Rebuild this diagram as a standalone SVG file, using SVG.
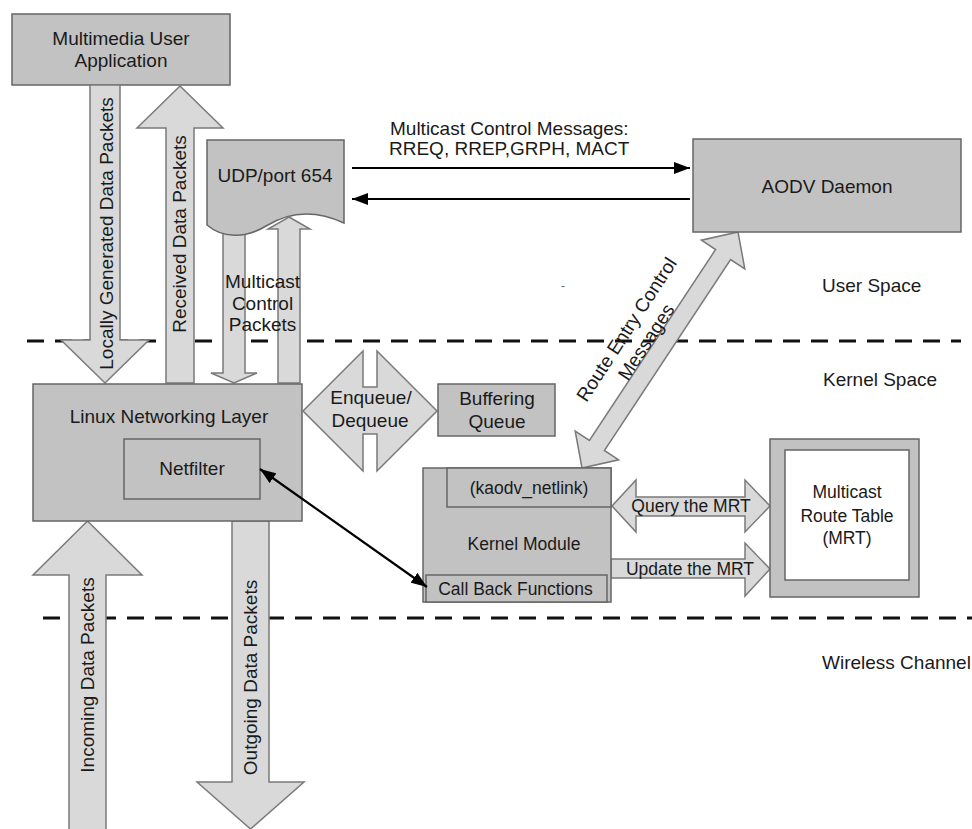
<svg xmlns="http://www.w3.org/2000/svg" width="972" height="829" viewBox="0 0 972 829">
<style>
text{font-family:"Liberation Sans",Arial,sans-serif;font-size:19px;fill:#1a1a1a;text-anchor:middle}
.sm{font-size:17.5px}
.lt{text-anchor:start}
.box{fill:#c2c2c2;stroke:#666;stroke-width:1.5}
.arr{fill:#d9d9d9;stroke:#7a7a7a;stroke-width:1.5;stroke-linejoin:miter}
.dash{stroke:#111;stroke-width:3;stroke-dasharray:17 11;fill:none}
.conn{stroke:#000;stroke-width:2.2;fill:none}
</style>
<defs>
<marker id="ah" markerUnits="userSpaceOnUse" markerWidth="16" markerHeight="12" refX="16" refY="6" orient="auto-start-reverse">
<path d="M0,0 L16,6 L0,12 z" fill="#000"/>
</marker>
</defs>
<rect width="972" height="829" fill="#fff"/>

<g id="separators">
<line class="dash" x1="27" y1="341" x2="961" y2="341"/>
<line class="dash" x1="43" y1="618" x2="972" y2="618"/>
</g>

<g id="region-labels">
<text class="lt" x="822" y="292">User Space</text>
<text class="lt" x="823" y="386">Kernel Space</text>
<text class="lt" x="822" y="669">Wireless Channel</text>
<text x="563" y="290" style="font-size:12px;fill:#666">-</text>
</g>

<g id="app">
<rect class="box" x="12" y="14" width="218" height="71"/>
<text x="121" y="45">Multimedia User</text>
<text x="121" y="67">Application</text>
</g>

<g id="connectors">
<g id="locally-generated">
<polygon class="arr" points="90,85 120,85 120,340 149,340 105,383 61,340 90,340"/>
<text transform="translate(113,233.5) rotate(-90)">Locally Generated Data Packets</text>
</g>
<g id="received">
<polygon class="arr" points="180,86 223,128 194,128 194,383 166,383 166,128 137,128"/>
<text transform="translate(186,234) rotate(-90)">Received Data Packets</text>
</g>
<g id="mc-down">
<polygon class="arr" points="223,225 245,225 245,373 257,373 234,383 211,373 223,373"/>
</g>
<g id="incoming">
<polygon class="arr" points="87.5,521 142,575 106,575 106,832 69,832 69,575 33,575"/>
<text transform="translate(94,675) rotate(-90)">Incoming Data Packets</text>
</g>
<g id="outgoing">
<polygon class="arr" points="232,521 269,521 269,782 304,782 250.5,829 197,782 232,782"/>
<text transform="translate(257,677.5) rotate(-90)">Outgoing Data Packets</text>
</g>
<g id="route-entry">
<polygon class="arr" points="738,232 744.8,268.8 730.6,259.5 604.4,450.5 618.6,459.8 582,468 575.2,431.2 589.4,440.5 715.6,249.5 701.4,240.2"/>
<text transform="translate(632,333) rotate(-57)">Route Entry Control</text>
<text transform="translate(651.5,345.5) rotate(-57)">Messages</text>
</g>
<g id="query">
<polygon class="arr" points="612,506 636,480 636,497 745,497 745,480 770,506 745,532 745,516 636,516 636,532"/>
<text class="sm" x="691" y="512">Query the MRT</text>
</g>
<g id="update">
<polygon class="arr" points="611,559 745,559 745,543 770,569 745,596 745,578 611,578"/>
<text class="sm" x="690" y="575">Update the MRT</text>
</g>
<line class="conn" x1="352" y1="168" x2="690" y2="168" marker-end="url(#ah)"/>
<line class="conn" x1="690" y1="199" x2="352" y2="199" marker-end="url(#ah)"/>
<text class="lt" x="390" y="135">Multicast Control Messages:</text>
<text class="lt" x="389" y="155">RREQ, RREP,GRPH, MACT</text>
</g>

<g id="udp">
<path class="box" d="M207,140 H344 V223 C312,208 287,213 266,226 S222,238 207,225 Z"/>
<text x="275" y="182">UDP/port 654</text>
</g>

<g id="mc-up">
<polygon class="arr" points="289,217 310,229 300,229 300,383 278,383 278,229 268,229"/>
<text x="262.5" y="288">Multicast</text>
<text x="262.5" y="310">Control</text>
<text x="262.5" y="331">Packets</text>
</g>

<g id="aodv">
<rect class="box" x="693" y="139" width="268" height="93"/>
<text x="827" y="193">AODV Daemon</text>
</g>

<g id="linux">
<rect class="box" x="33" y="384" width="269" height="137"/>
<text x="169" y="423">Linux Networking Layer</text>
<g id="netfilter">
<rect class="box" x="124" y="439" width="136" height="60"/>
<text x="192" y="475">Netfilter</text>
</g>
</g>

<g id="enqueue">
<polygon class="arr" points="303,411 363,351 363,387 377,387 377,351 437,411 377,471 377,434 363,434 363,471"/>
<text x="371" y="404">Enqueue/</text>
<text x="370" y="427">Dequeue</text>
</g>

<g id="buffering">
<rect class="box" x="438" y="384" width="117" height="52"/>
<text x="497" y="405">Buffering</text>
<text x="497" y="428">Queue</text>
</g>

<g id="kernel-module">
<rect class="box" x="423" y="468" width="188" height="134"/>
<rect class="box" x="447" y="468" width="164" height="39"/>
<text class="sm" x="529" y="494">(kaodv_netlink)</text>
<text class="sm" x="524" y="550">Kernel Module</text>
<rect class="box" x="426" y="575" width="181" height="27"/>
<text class="sm" x="515.5" y="595">Call Back Functions</text>
</g>

<g id="mrt">
<rect x="770" y="439" width="149" height="158" fill="#c2c2c2" stroke="#666" stroke-width="1.5"/>
<rect x="785" y="450" width="124" height="130" fill="#fff" stroke="#666" stroke-width="1.5"/>
<text class="sm" x="847" y="498">Multicast</text>
<text class="sm" x="847" y="522">Route Table</text>
<text class="sm" x="847" y="544">(MRT)</text>
</g>

<g id="connectors-top">
<line class="conn" x1="260" y1="469" x2="427" y2="587" marker-start="url(#ah)" marker-end="url(#ah)"/>
</g>
</svg>
